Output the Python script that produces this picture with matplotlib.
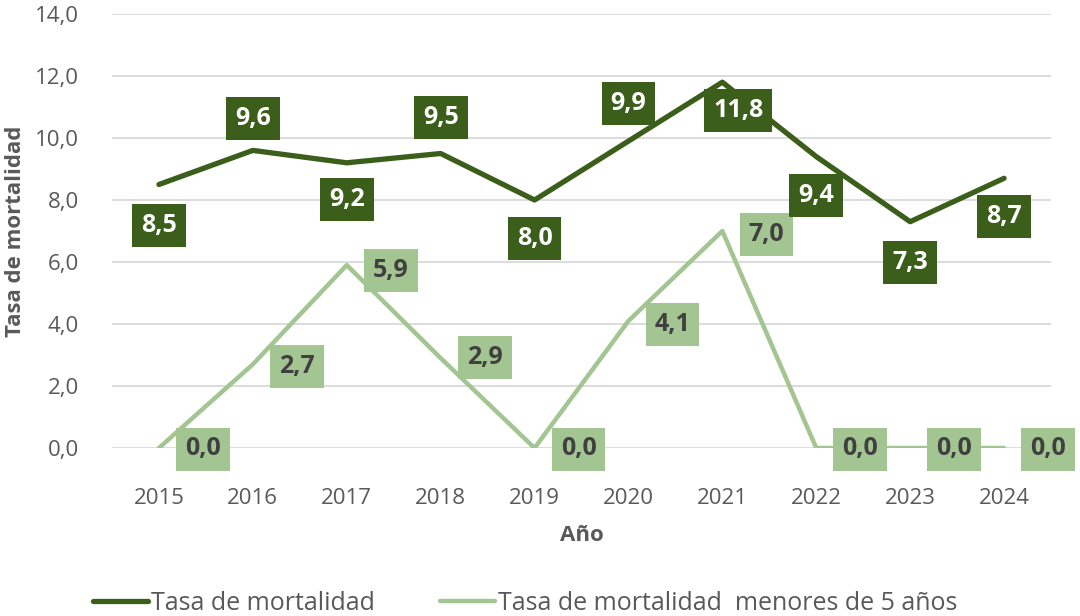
import matplotlib
matplotlib.use('Agg')
import matplotlib.pyplot as plt
import numpy as np

plt.rcParams['font.family'] = ['Open Sans', 'DejaVu Sans']

years = [2015, 2016, 2017, 2018, 2019, 2020, 2021, 2022, 2023, 2024]
tasa = [8.5, 9.6, 9.2, 9.5, 8.0, 9.9, 11.8, 9.4, 7.3, 8.7]
tasa_menores = [0.0, 2.7, 5.9, 2.9, 0.0, 4.1, 7.0, 0.0, 0.0, 0.0]

# label offsets in pixels (dx, dy), style only
off_dark = [(0, -41), (0, 32), (0, -37), (0, 36), (0, -38), (0, 38), (16, -28), (0, -39), (0, -41), (0, -38)]
off_light = [(44, -1), (44, -2), (44, -5), (44, 1), (44, -1), (44, -4), (44, -3), (44, -1), (44, -1), (44, -1)]

dark = '#3B5E1A'
light = '#A3C591'
gray = '#595959'

fig = plt.figure(figsize=(10.8, 6.16), dpi=100)
ax = fig.add_axes([112 / 1080, 1 - 448 / 616, (1051 - 112) / 1080, 434 / 616])

x = np.arange(len(years))
ax.plot(x, tasa, color=dark, lw=3.8, solid_capstyle='round', label='Tasa de mortalidad', zorder=3)
ax.plot(x, tasa_menores, color=light, lw=3.2, solid_capstyle='round',
        label='Tasa de mortalidad  menores de 5 años', zorder=3)

def fmt(v):
    return f'{v:.1f}'.replace('.', ',')

for i in range(len(years)):
    ax.annotate(fmt(tasa[i]), (x[i], tasa[i]), xytext=(off_dark[i][0] * 0.72, off_dark[i][1] * 0.72),
                textcoords='offset points', ha='center', va='center', fontsize=18, fontweight='bold',
                color='white', zorder=5,
                bbox=dict(boxstyle='square,pad=0.36', fc=dark, ec='none'))
    ax.annotate(fmt(tasa_menores[i]), (x[i], tasa_menores[i]),
                xytext=(off_light[i][0] * 0.72, off_light[i][1] * 0.72),
                textcoords='offset points', ha='center', va='center', fontsize=18, fontweight='bold',
                color='#404040', zorder=5, annotation_clip=False,
                bbox=dict(boxstyle='square,pad=0.36', fc=light, ec='none'))

ax.set_xlim(-0.5, len(years) - 0.5)
ax.set_ylim(0, 14)
ax.set_yticks(np.arange(0, 15, 2))
ax.set_yticklabels([fmt(v) for v in np.arange(0, 15, 2)])
ax.set_xticks(x)
ax.set_xticklabels([str(y) for y in years])
ax.grid(axis='y', color='#D9D9D9', lw=1.3)
ax.set_axisbelow(True)
for s in ax.spines.values():
    s.set_visible(False)
ax.tick_params(length=0, labelsize=16, colors=gray)
ax.tick_params(axis='x', pad=29)
ax.tick_params(axis='y', pad=24)

ax.set_xlabel('Año', fontsize=16, fontweight='bold', color=gray, labelpad=11)
ax.set_ylabel('Tasa de mortalidad', fontsize=16, fontweight='bold', color=gray, labelpad=6)

leg = fig.legend(loc='center', bbox_to_anchor=(0.486, 1 - 603 / 616), ncol=2, frameon=False,
                 fontsize=18, handlelength=2.2, handletextpad=0.12, columnspacing=2.6)
for t in leg.get_texts():
    t.set_color(gray)

fig.savefig('out.png', dpi=100)
